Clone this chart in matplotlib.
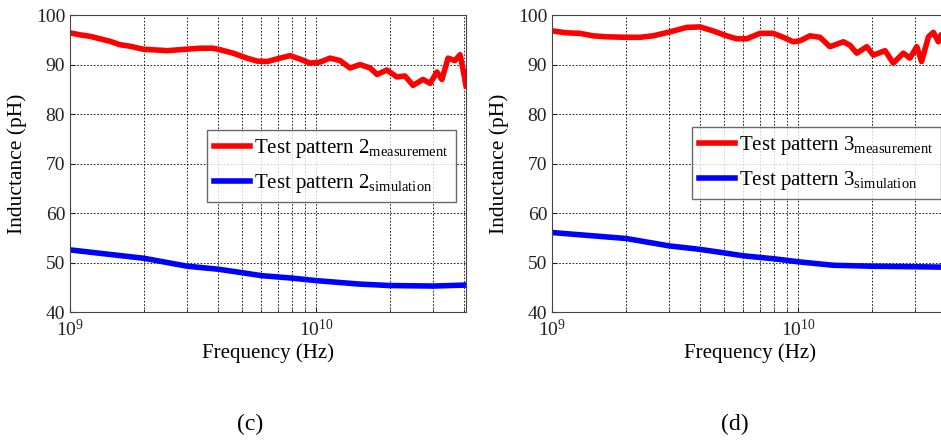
import matplotlib
matplotlib.use("Agg")
import matplotlib.pyplot as plt

plt.rcParams['font.family'] = ['Liberation Serif', 'DejaVu Serif']
plt.rcParams['mathtext.fontset'] = 'custom'
plt.rcParams['mathtext.rm'] = 'Liberation Serif'
plt.rcParams['mathtext.it'] = 'Liberation Serif:italic'

# frequencies in GHz, inductance in pH
f_meas_c = [1.0, 1.098, 1.206, 1.324, 1.454, 1.597, 1.754, 1.98, 2.32, 2.48, 2.80,
            3.38, 3.81, 4.07, 4.60, 5.24, 5.76, 6.32, 7.14, 7.84, 8.61, 9.45,
            10.38, 11.4, 12.52, 13.75, 15.1, 16.6, 17.7, 19.4, 21.3, 23.0, 24.8,
            27.2, 29.1, 31.0, 32.5, 34.4, 36.7, 38.5, 39.6, 40.7]
L_meas_c = [96.4, 96.0, 95.7, 95.2, 94.7, 94.0, 93.7, 93.1, 92.9, 92.8, 93.0,
            93.3, 93.3, 93.0, 92.3, 91.3, 90.7, 90.6, 91.3, 91.8, 91.1, 90.3,
            90.5, 91.3, 90.8, 89.3, 90.0, 89.3, 88.0, 88.9, 87.5, 87.7, 85.8,
            87.0, 86.2, 88.5, 87.0, 91.3, 90.8, 92.0, 89.0, 85.7]
f_sim_c = [1.0, 2.0, 3.0, 4.0, 5.0, 6.0, 8.0, 10.0, 15.0, 20.0, 30.0, 40.7]
L_sim_c = [52.6, 50.9, 49.3, 48.7, 48.0, 47.4, 46.9, 46.4, 45.7, 45.4, 45.3, 45.5]

f_meas_d = [1.0, 1.148, 1.299, 1.468, 1.669, 2.012, 2.279, 2.574, 3.018, 3.528,
            3.996, 4.513, 5.13, 5.63, 6.19, 7.01, 7.94, 8.71, 9.57, 10.19, 11.19,
            12.29, 13.49, 15.28, 16.26, 17.33, 19.03, 20.25, 22.59, 24.4, 26.8,
            28.5, 30.4, 31.8, 33.9, 35.5, 37.2, 38.1, 40.7]
L_meas_d = [96.8, 96.4, 96.3, 95.8, 95.6, 95.5, 95.5, 95.8, 96.6, 97.5,
            97.6, 96.8, 95.8, 95.2, 95.2, 96.3, 96.3, 95.5, 94.6, 94.8, 95.8,
            95.5, 93.6, 94.6, 93.9, 92.3, 93.6, 91.9, 92.8, 90.3, 92.3,
            91.3, 93.6, 90.6, 95.6, 96.5, 94.6, 96.0, 95.0]
f_sim_d = [1.0, 2.0, 3.0, 4.0, 5.0, 6.0, 8.0, 10.0, 13.9, 20.0, 30.0, 40.7]
L_sim_d = [56.1, 54.9, 53.4, 52.7, 52.0, 51.4, 50.8, 50.2, 49.5, 49.3, 49.2, 49.1]

panels = [
    (f_meas_c, L_meas_c, f_sim_c, L_sim_c, '2', 0.0744, (0.346, 0.613), '(c)', 0.266),
    (f_meas_d, L_meas_d, f_sim_d, L_sim_d, '3', 0.5866, (0.354, 0.623), '(d)', 0.781),
]

fig = plt.figure(figsize=(9.41, 4.44), dpi=100)

for fm, lm, fs, ls, n, left, leg_pos, tag, tag_x in panels:
    ax = fig.add_axes([left, 0.2966, 0.4208, 0.6696])
    ax.semilogx([v * 1e9 for v in fm], lm, color='#ff0000', lw=4,
                label='Test pattern ' + n + r'$_{\mathrm{measurement}}$')
    ax.semilogx([v * 1e9 for v in fs], ls, color='#0000ff', lw=4,
                label='Test pattern ' + n + r'$_{\mathrm{simulation}}$')
    ax.set_xlim(1e9, 4.07e10)
    ax.set_ylim(40, 100)
    ax.set_yticks([40, 50, 60, 70, 80, 90, 100])
    ax.grid(True, which='major', color='black', linestyle=(0, (2, 2)), lw=0.6)
    ax.grid(True, which='minor', axis='x', color='black', linestyle=(0, (2, 2)), lw=0.6)
    ax.tick_params(which='both', direction='in', labelsize=14, colors='#222222')
    ax.tick_params(axis='x', pad=5)
    for s in ax.spines.values():
        s.set_color('#444444')
        s.set_linewidth(0.8)
    ax.set_xlabel('Frequency (Hz)', fontsize=15, labelpad=2)
    ax.set_ylabel('Inductance (pH)', fontsize=15.5, labelpad=6)
    ax.legend(loc='upper left', bbox_to_anchor=leg_pos, fontsize=15,
              frameon=True, fancybox=False, edgecolor='#444444',
              handlelength=1.7, handletextpad=0.2, labelspacing=0.55,
              borderpad=0.35, borderaxespad=0)
    fig.text(tag_x, 0.043, tag, fontsize=17, ha='center', va='center')

fig.savefig('out.png', dpi=100)
